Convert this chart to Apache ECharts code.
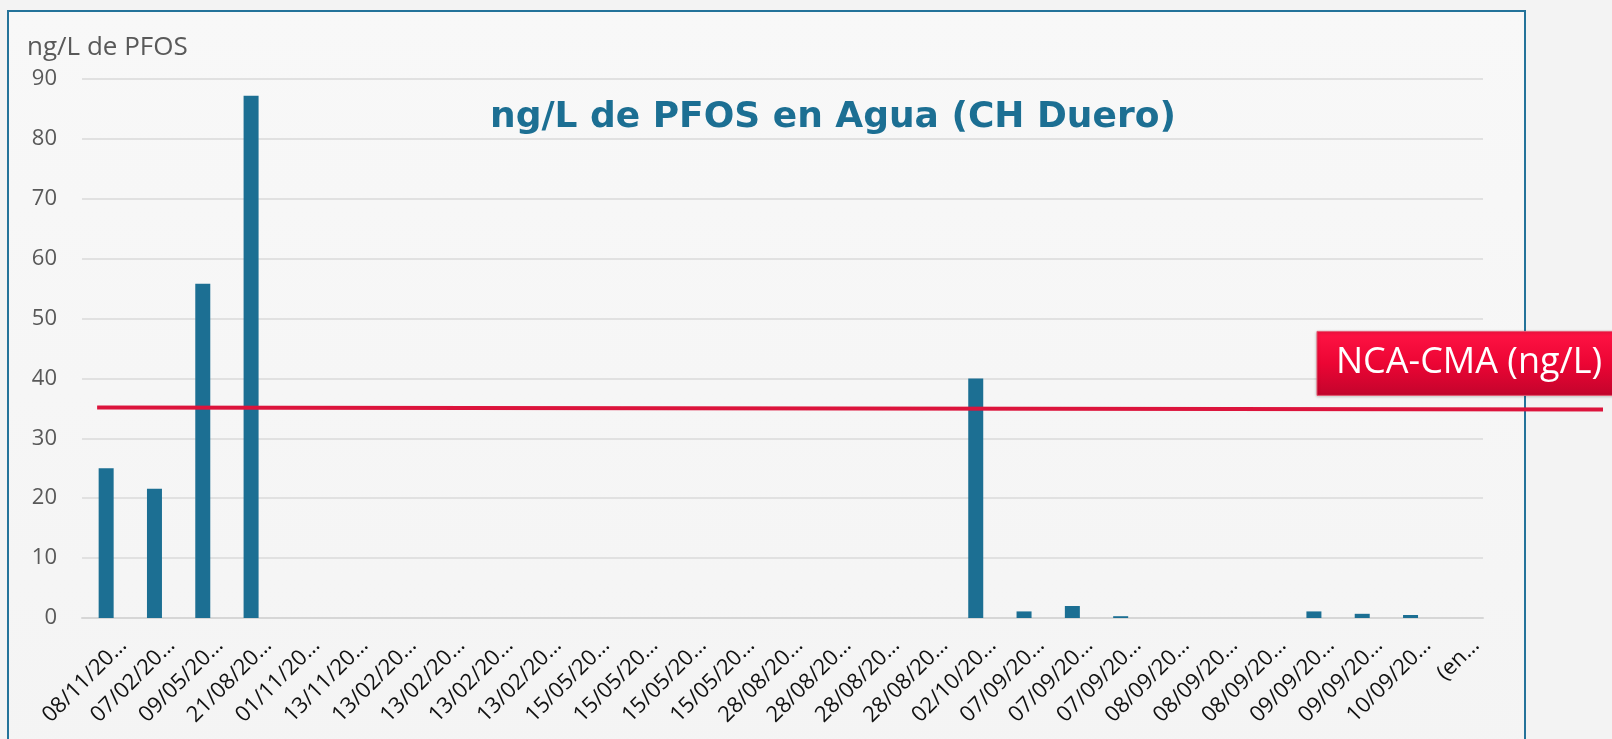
<!DOCTYPE html>
<html>
<head>
<meta charset="utf-8">
<script src="https://cdn.jsdelivr.net/npm/echarts@6/dist/echarts.min.js"></script>
<style>
  html, body { margin: 0; padding: 0; background: #f3f3f3; }
  #wrap { position: relative; width: 1612px; height: 739px; overflow: hidden; }
  #frame {
    position: absolute; left: 7px; top: 10px; width: 1519px; height: 760px;
    border: 2px solid #24739a; box-sizing: border-box;
    background: linear-gradient(#f8f8f8, #f4f4f4);
  }
  #chart { position: absolute; left: 0; top: 0; width: 1612px; height: 739px; }
</style>
</head>
<body>
<div id="wrap">
  <div id="frame"></div>
  <div id="chart"></div>
</div>
<script>
// fechas de muestreo (etiquetas tal como salen recortadas)
const categories = [
  '08/11/20…', '07/02/20…', '09/05/20…', '21/08/20…', '01/11/20…', '13/11/20…',
  '13/02/20…', '13/02/20…', '13/02/20…', '13/02/20…',
  '15/05/20…', '15/05/20…', '15/05/20…', '15/05/20…',
  '28/08/20…', '28/08/20…', '28/08/20…', '28/08/20…',
  '02/10/20…', '07/09/20…', '07/09/20…', '07/09/20…',
  '08/09/20…', '08/09/20…', '08/09/20…',
  '09/09/20…', '09/09/20…', '10/09/20…', '(en…',
];

// ng/L de PFOS
const pfos = [
  25, 21.6, 55.8, 87.2, null, null,
  null, null, null, null,
  null, null, null, null,
  null, null, null, null,
  40, 1.1, 2.0, 0.3,
  null, null, null,
  1.1, 0.7, 0.5, null,
];

const yTicks = { min: 0, max: 90, interval: 10 };
const NCA_CMA = 35;
const NCA_LABEL = 'NCA-CMA (ng/L)';

const TEAL = '#1c6f93';
const FONT = '"Open Sans", "Noto Sans", sans-serif';

const chart = echarts.init(document.getElementById('chart'), null, { renderer: 'canvas' });

chart.setOption({
  backgroundColor: 'transparent',
  animation: false,
  title: [
    {
      text: 'ng/L de PFOS en Agua (CH Duero)',
      left: 485, top: 92,
      textStyle: { color: TEAL, fontSize: 36, fontWeight: 'bold', fontFamily: '"DejaVu Sans", sans-serif', lineHeight: 42 },
    },
    {
      text: 'ng/L de PFOS',
      left: 22, top: 27,
      textStyle: { color: '#595959', fontSize: 26, fontWeight: 'normal', fontFamily: FONT, lineHeight: 32 },
    },
  ],
  grid: {
    left: 82, right: 129, top: 79, bottom: 121,
    containLabel: false, outerBoundsMode: 'none',
  },
  xAxis: {
    type: 'category',
    data: categories,
    axisTick: { show: false },
    axisLine: { lineStyle: { color: '#d6d6d6', width: 2 } },
    axisLabel: {
      interval: 0, rotate: 45, margin: 7,
      align: 'right', verticalAlign: 'top', lineHeight: 48,
      color: '#111', fontSize: 22, fontFamily: FONT,
    },
  },
  yAxis: {
    type: 'value',
    min: yTicks.min, max: yTicks.max, interval: yTicks.interval,
    axisLine: { show: false },
    axisTick: { show: false },
    splitLine: { lineStyle: { color: '#dadada', width: 1.5 } },
    axisLabel: { margin: 25, color: '#595959', fontSize: 22, fontFamily: FONT },
  },
  series: [{
    type: 'bar',
    data: pfos,
    barWidth: 15,
    itemStyle: { color: TEAL },
  }],
});

// línea del límite NCA-CMA y su rótulo, colocados con las escalas del gráfico
function drawLimit() {
  const y = chart.convertToPixel({ yAxisIndex: 0 }, NCA_CMA);
  const x0 = chart.convertToPixel({ xAxisIndex: 0 }, 0) - 9;
  const gridRight = chart.getWidth() - 129;
  const x1 = gridRight + 120;
  chart.setOption({
    graphic: [
      {
        type: 'line', z: 100,
        shape: { x1: x0, y1: y - 1, x2: x1, y2: y + 1 },
        style: { stroke: '#dc143c', lineWidth: 4 },
      },
      {
        type: 'rect', z: 101,
        shape: { x: gridRight - 166, y: y - 77, width: 320, height: 64 },
        style: {
          fill: new echarts.graphic.LinearGradient(0, 0, 0, 1, [
            { offset: 0, color: '#ff1444' },
            { offset: 0.5, color: '#ec0534' },
            { offset: 1, color: '#c2042c' },
          ]),
          stroke: '#e4566f', lineWidth: 1,
          shadowColor: 'rgba(0,0,0,0.25)', shadowBlur: 3, shadowOffsetY: 1,
        },
      },
      {
        type: 'text', z: 102,
        x: gridRight - 147, y: y - 46,
        style: {
          text: NCA_LABEL, fill: '#fff', fontSize: 36, fontFamily: FONT,
          textVerticalAlign: 'middle', verticalAlign: 'middle',
        },
      },
    ],
  });
}
drawLimit();
</script>
</body>
</html>
